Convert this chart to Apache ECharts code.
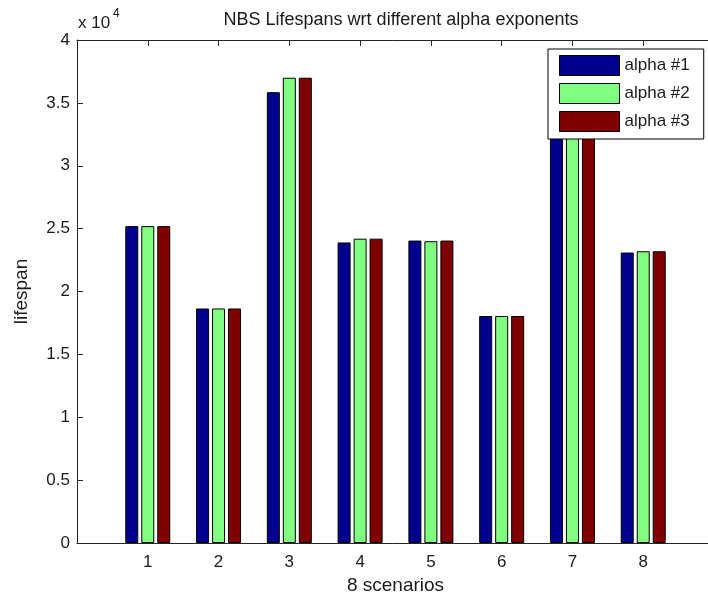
<!DOCTYPE html>
<html>
<head>
<meta charset="utf-8">
<script src="https://cdn.jsdelivr.net/npm/echarts@6/dist/echarts.min.js"></script>
<style>
  html, body { margin: 0; padding: 0; background: #fff; }
  #chart { width: 708px; height: 597px; }
</style>
</head>
<body>
<div id="chart"></div>
<script>
// Scenario numbers on the x axis
const scenarios = [1, 2, 3, 4, 5, 6, 7, 8];
// Lifespan per scenario for each alpha exponent
const alpha1 = [25200, 18650, 35850, 23900, 24050, 18050, 35000, 23100];
const alpha2 = [25200, 18650, 37000, 24200, 24000, 18050, 36000, 23200];
const alpha3 = [25200, 18650, 37000, 24200, 24050, 18050, 36000, 23200];
const seriesNames = ['alpha #1', 'alpha #2', 'alpha #3'];
// Y tick labels are shown in units of 10^4
const yTickLabels = ['0', '0.5', '1', '1.5', '2', '2.5', '3', '3.5', '4'];

const FONT = 'Liberation Sans';
const AXIS = '#262626';
const colors = ['#00008F', '#80FF80', '#800000'];

const pairs = vals => scenarios.map((s, i) => [s, vals[i]]);

const chart = echarts.init(document.getElementById('chart'), null, { renderer: 'canvas' });

const xCommon = {
  type: 'value', min: 0, max: 9, interval: 1,
  axisLine: { show: true, onZero: false, lineStyle: { color: AXIS, width: 1 } },
  axisTick: { show: true, inside: true, length: 6, lineStyle: { color: AXIS } },
  splitLine: { show: false }
};

chart.setOption({
  animation: false,
  backgroundColor: '#fff',
  textStyle: { fontFamily: FONT },
  title: {
    text: 'NBS Lifespans wrt different alpha exponents',
    left: 396, top: 6, textAlign: 'center',
    textStyle: { fontFamily: FONT, fontSize: 18, fontWeight: 'normal', color: '#1a1a1a' }
  },
  // the plot box runs a few pixels past the right edge of the canvas
  grid: { left: 77, top: 40, width: 637, height: 503, containLabel: false, outerBoundsMode: 'none' },
  legend: {
    data: seriesNames,
    orient: 'vertical',
    left: 548, top: 49,
    padding: [6, 14, 7, 11],
    itemWidth: 60, itemHeight: 20, itemGap: 7,
    backgroundColor: '#fff', borderColor: '#000', borderWidth: 1,
    icon: 'rect',
    itemStyle: { borderColor: '#000', borderWidth: 1 },
    textStyle: { fontFamily: FONT, fontSize: 17, color: '#1a1a1a', padding: [0, 0, 0, 0] }
  },
  xAxis: [
    Object.assign({}, xCommon, {
      position: 'bottom',
      name: '8 scenarios', nameLocation: 'middle', nameGap: 24,
      nameTextStyle: { fontFamily: FONT, fontSize: 19, color: '#1a1a1a' },
      axisLabel: {
        margin: 11, fontFamily: FONT, fontSize: 17, color: '#1a1a1a',
        formatter: v => (scenarios.indexOf(v) >= 0 ? String(v) : '')
      }
    }),
    Object.assign({}, xCommon, { position: 'top', axisLabel: { show: false } })
  ],
  yAxis: {
    type: 'value', min: 0, max: 40000, interval: 5000,
    name: 'lifespan', nameLocation: 'middle', nameGap: 46, nameRotate: 90,
    nameTextStyle: { fontFamily: FONT, fontSize: 19, color: '#1a1a1a' },
    axisLine: { show: true, lineStyle: { color: AXIS, width: 1 } },
    axisTick: { show: true, inside: true, length: 6, lineStyle: { color: AXIS } },
    splitLine: { show: false },
    axisLabel: {
      margin: 7, fontFamily: FONT, fontSize: 17, color: '#1a1a1a',
      formatter: v => yTickLabels[Math.round(v / 5000)]
    }
  },
  graphic: [
    { type: 'text', left: 78, top: 15, style: { text: 'x 10', font: '17px "Liberation Sans"', fill: '#1a1a1a' } },
    { type: 'text', left: 113, top: 8, style: { text: '4', font: '12px "Liberation Sans"', fill: '#1a1a1a' } }
  ],
  series: [alpha1, alpha2, alpha3].map((vals, k) => ({
    name: seriesNames[k],
    type: 'bar',
    xAxisIndex: 0,
    data: pairs(vals),
    barWidth: 13,
    barGap: '23%',
    itemStyle: { color: colors[k], borderColor: '#000', borderWidth: 1 }
  }))
});
</script>
</body>
</html>
